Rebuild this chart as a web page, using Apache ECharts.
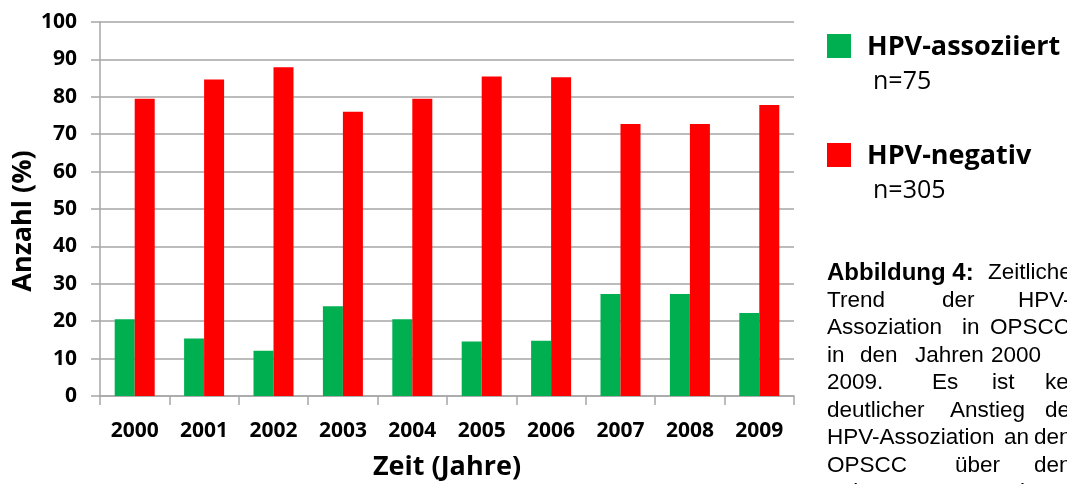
<!DOCTYPE html>
<html>
<head>
<meta charset="utf-8">
<script src="https://cdn.jsdelivr.net/npm/echarts@6/dist/echarts.min.js"></script>
<style>
html, body { margin: 0; padding: 0; background: #fff; }
#chart { width: 1067px; height: 484px; }
</style>
</head>
<body>
<div id="chart"></div>
<script>
// data (percent per year)
var years = ['2000', '2001', '2002', '2003', '2004', '2005', '2006', '2007', '2008', '2009'];
var hpvPositive = [20.5, 15.4, 12.1, 24.0, 20.5, 14.6, 14.8, 27.3, 27.3, 22.2];
var hpvNegative = [79.5, 84.6, 87.9, 76.0, 79.5, 85.4, 85.2, 72.7, 72.7, 77.8];

var seriesNames = ['HPV-assoziiert', 'HPV-negativ'];
var seriesCounts = ['n=75', 'n=305'];
var seriesColors = ['#00b050', '#ff0000'];

// caption, word by word (the original is justified)
var captionWords = [
    ['Abbildung 4:', 'Zeitlicher'],
    ['Trend', 'der', 'HPV-'],
    ['Assoziation', 'in', 'OPSCC'],
    ['in', 'den', 'Jahren', '2000', 'bis'],
    ['2009.', 'Es', 'ist', 'kein'],
    ['deutlicher', 'Anstieg', 'der'],
    ['HPV-Assoziation', 'an', 'den'],
    ['OPSCC', 'über', 'den'],
    ['Zeitraum', 'zu', 'erkennen.']
];
var captionWordX = [
    [827, 988],
    [827, 942, 1018],
    [827, 962, 990],
    [827, 860, 915, 991, 1068],
    [827, 932, 992, 1045],
    [827, 950, 1045],
    [827, 1004, 1034],
    [827, 955, 1034],
    [827, 960, 1000]
];

var myChart = echarts.init(document.getElementById('chart'));

var axisGrey = '#a6a6a6';
var chartFont = 'Open Sans';
var captionFont = 'Arial, "Liberation Sans", sans-serif';

var graphics = [];
for (var i = 0; i < seriesNames.length; i++) {
    var boxTop = 34 + i * 109;
    graphics.push({
        type: 'rect',
        x: 827, y: boxTop,
        shape: { width: 24, height: 24 },
        style: { fill: seriesColors[i] }
    });
    graphics.push({
        type: 'text',
        x: 867, y: boxTop + 13,
        style: {
            text: seriesNames[i], fill: '#000',
            fontFamily: chartFont, fontWeight: 'bold', fontSize: 27,
            verticalAlign: 'middle'
        }
    });
    graphics.push({
        type: 'text',
        x: 873, y: boxTop + 48,
        style: {
            text: seriesCounts[i], fill: '#000',
            fontFamily: chartFont, fontSize: 25,
            verticalAlign: 'middle'
        }
    });
}

captionWords.forEach(function (line, li) {
    var midY = 273 + li * 27.5;
    line.forEach(function (word, wi) {
        var isBold = (li === 0 && wi === 0);
        graphics.push({
            type: 'text',
            x: captionWordX[li][wi], y: midY,
            style: {
                text: word, fill: '#000',
                fontFamily: captionFont, fontSize: isBold ? 24 : 22.5,
                fontWeight: isBold ? 'bold' : 'normal',
                verticalAlign: 'middle'
            }
        });
    });
});

var option = {
    animation: false,
    backgroundColor: '#fff',
    grid: { left: 100, right: 273, top: 22, bottom: 88, outerBoundsMode: 'none', containLabel: false },
    xAxis: {
        type: 'category',
        data: years,
        name: 'Zeit (Jahre)',
        nameLocation: 'middle',
        nameGap: 58,
        nameMoveOverlap: false,
        nameTextStyle: { fontFamily: chartFont, fontWeight: 'bold', fontSize: 27, color: '#000' },
        axisLine: { lineStyle: { color: axisGrey, width: 1.5 } },
        axisTick: { show: true, interval: 0, length: 9, lineStyle: { color: axisGrey, width: 1.5 } },
        axisLabel: { margin: 25, fontFamily: chartFont, fontWeight: 'bold', fontSize: 21, color: '#000', interval: 0 }
    },
    yAxis: {
        type: 'value',
        min: 0, max: 100, interval: 10,
        name: 'Anzahl (%)',
        nameLocation: 'middle',
        nameGap: 63,
        nameMoveOverlap: false,
        nameTextStyle: { fontFamily: chartFont, fontWeight: 'bold', fontSize: 27, color: '#000', padding: [0, 24, 0, 0] },
        axisLine: { show: true, lineStyle: { color: axisGrey, width: 1.5 } },
        axisTick: { show: true, length: 9, lineStyle: { color: axisGrey, width: 1.5 } },
        axisLabel: { margin: 23, fontFamily: chartFont, fontWeight: 'bold', fontSize: 21, color: '#000' },
        splitLine: { lineStyle: { color: axisGrey, width: 1.5 } }
    },
    series: [{
        name: seriesNames[0],
        type: 'bar',
        data: hpvPositive,
        barWidth: 20,
        barGap: '0%',
        itemStyle: { color: seriesColors[0] }
    }, {
        name: seriesNames[1],
        type: 'bar',
        data: hpvNegative,
        barWidth: 20,
        barGap: '0%',
        itemStyle: { color: seriesColors[1] }
    }],
    graphic: graphics
};

myChart.setOption(option);
</script>
</body>
</html>
